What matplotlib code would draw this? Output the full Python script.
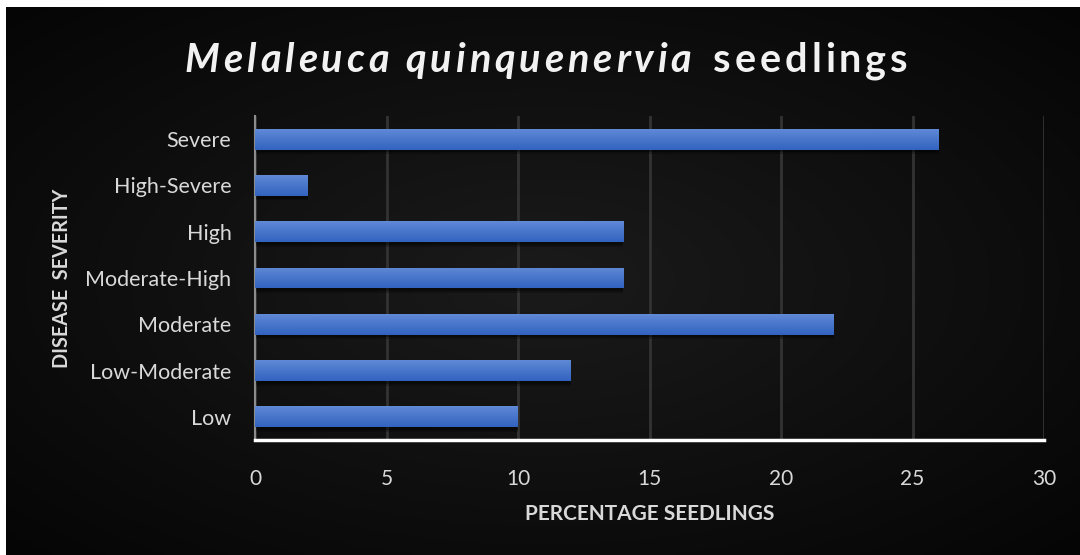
import numpy as np
import matplotlib
matplotlib.use("Agg")
import matplotlib.pyplot as plt
from matplotlib.colors import to_rgb

# data
categories = ["Low", "Low-Moderate", "Moderate", "Moderate-High", "High", "High-Severe", "Severe"]
percent = [10, 12, 22, 14, 14, 2, 26]
xticks = [0, 5, 10, 15, 20, 25, 30]

W, H = 1080, 555
plt.rcParams['font.family'] = ['Lato', 'DejaVu Sans']
fig = plt.figure(figsize=(W / 100, H / 100), dpi=100, facecolor='white')

# dark background with a soft radial glow
bg = fig.add_axes([6 / W, 0, 1 - 6 / W, 1 - 7 / H])
bg.set_axis_off()
yy, xx = np.mgrid[-1:1:300j, -1:1:600j]
r = np.sqrt(xx ** 2 + yy ** 2) / np.sqrt(2)
shade = 0.105 - 0.085 * r
bg.imshow(np.dstack([shade, shade, shade]), extent=[0, 1, 0, 1], aspect='auto', interpolation='bilinear')
bg.set_xlim(0, 1)
bg.set_ylim(0, 1)

ax = fig.add_axes([255 / W, 1 - 440 / H, (1044 - 255) / W, (440 - 116) / H])
ax.patch.set_alpha(0)

ypos = np.arange(len(categories))
bh = 0.45

# shadow under bars
for k, a in [(0.10, 0.25), (0.06, 0.35)]:
    ax.barh(ypos - k, percent, height=bh, color='black', alpha=a, zorder=2, linewidth=0)

bars = ax.barh(ypos, percent, height=bh, color='#4472c4', zorder=3, linewidth=0)

top = np.array(to_rgb('#6089d6'))
bot = np.array(to_rgb('#3263c0'))
grad = np.linspace(0, 1, 64)[:, None, None] * (bot - top) + top
for b in bars:
    x0, y0 = b.get_x(), b.get_y()
    im = ax.imshow(np.repeat(grad, 2, axis=1), extent=[x0, x0 + b.get_width(), y0, y0 + b.get_height()],
                   aspect='auto', zorder=4, interpolation='bilinear', origin='upper')
    im.set_clip_path(b)

ax.set_xlim(0, 30)
ax.set_ylim(-0.5, len(categories) - 0.5)
ax.set_xticks(xticks)
ax.set_yticks(ypos)
ax.set_yticklabels(categories)
ax.tick_params(axis='both', length=0, colors='#d9d9d9')
ax.tick_params(axis='y', pad=17, labelsize=15.5)
ax.tick_params(axis='x', pad=21, labelsize=15)
ax.grid(axis='x', color='#333333', linewidth=2, zorder=0)
ax.set_axisbelow(True)
for s in ['top', 'right']:
    ax.spines[s].set_visible(False)
ax.spines['left'].set_color('#8c8c8c')
ax.spines['left'].set_linewidth(1.5)
ax.spines['bottom'].set_color('white')
ax.spines['bottom'].set_linewidth(2.5)
ax.spines['bottom'].set_zorder(6)

ax.set_xlabel('PERCENTAGE SEEDLINGS', color='#d9d9d9', fontsize=15, fontweight='bold', va='center', ha='center')
ax.set_ylabel('DISEASE  SEVERITY', color='#d9d9d9', fontsize=14.2, fontweight='bold', va='center', ha='center')
ax.xaxis.set_label_coords(0.5, (440 - 514) / 324)
ax.yaxis.set_label_coords((62 - 255) / 789, 0.5)

# title with wide letter spacing, drawn piece by piece
renderer = fig.canvas.get_renderer()
parts = [("Melaleuca quinquenervia", 'italic'), (" seedlings", 'normal')]
tsize = 28.5
spacing = 3.9
chars = []
for txt, style in parts:
    for ch in txt:
        chars.append((ch, style))
widths = []
nspace = 0
for ch, style in chars:
    if ch == ' ':
        # second gap (between italic and upright) is a little wider
        widths.append(tsize * (0.3 if nspace == 0 else 0.5))
        nspace += 1
        continue
    t = fig.text(0, 0, ch, fontsize=tsize, fontweight='bold', style=style)
    widths.append(t.get_window_extent(renderer).width)
    t.remove()
total = sum(widths) + spacing * (len(chars) - 1)
x = 546 - total / 2
for (ch, style), w in zip(chars, widths):
    if ch != ' ':
        fig.text(x / W, 1 - 72 / H, ch, fontsize=tsize, fontweight='bold', style=style,
                 color='#f2f2f2', ha='left', va='baseline')
    x += w + spacing

fig.savefig('out.png', dpi=100, facecolor=fig.get_facecolor())
